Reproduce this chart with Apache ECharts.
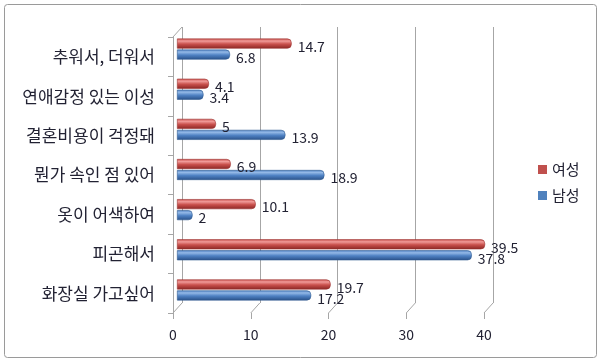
<!DOCTYPE html>
<html>
<head>
<meta charset="utf-8">
<script src="https://cdn.jsdelivr.net/npm/echarts@6/dist/echarts.min.js"></script>
<style>
html,body{margin:0;padding:0;background:#fff;}
#c{width:600px;height:363px;}
</style>
</head>
<body>
<div id="c"></div>
<script>
// ---- data ----
const categories = ['추워서, 더워서', '연애감정 있는 이성', '결혼비용이 걱정돼', '뭔가 속인 점 있어', '옷이 어색하여', '피곤해서', '화장실 가고싶어'];
const female = [14.7, 4.1, 5, 6.9, 10.1, 39.5, 19.7];   // 여성
const male = [6.8, 3.4, 13.9, 18.9, 2, 37.8, 17.2];      // 남성
const seriesNames = ['여성', '남성'];
const xTicks = [0, 10, 20, 30, 40];
const xMin = 0, xMax = 40, xInterval = 10;

// ---- style ----
const FONT = '"Noto Sans CJK KR", "Noto Sans", sans-serif';
const TEXT = '#222233';
const LINE = '#a6a6a6';
const DEPTH = {x: 9, y: -10};
const RED = '#c0504d', BLUE = '#4f81bd';

function grad(light, base, dark) {
  return new echarts.graphic.LinearGradient(0, 0, 0, 1, [
    {offset: 0, color: base},
    {offset: 0.25, color: light},
    {offset: 0.55, color: base},
    {offset: 1, color: dark}
  ]);
}

const chart = echarts.init(document.getElementById('c'), null, {renderer: 'canvas'});

const hiddenX = (gi) => ({type: 'value', gridIndex: gi, min: xMin, max: xMax, interval: xInterval,
  axisLine: {show: false}, axisTick: {show: false}, axisLabel: {show: false}, splitLine: {show: false}});
const hiddenY = (gi) => ({type: 'category', gridIndex: gi, data: categories, inverse: true,
  axisLine: {show: false}, axisTick: {show: false}, axisLabel: {show: false}, splitLine: {show: false}});

const option = {
  backgroundColor: '#fff',
  animation: false,
  textStyle: {fontFamily: FONT},
  grid: [
    {left: 182, top: 27, width: 311, height: 276},   // back plane
    {left: 173, top: 37, width: 311, height: 276},   // front plane
    {left: 177, top: 29, width: 312, height: 281}    // bars
  ],
  xAxis: [
    Object.assign(hiddenX(0), {splitLine: {show: true, lineStyle: {color: LINE, width: 1}}}),
    {type: 'value', gridIndex: 1, min: xMin, max: xMax, interval: xInterval,
      axisLine: {show: false},
      axisTick: {show: true, length: 6, lineStyle: {color: LINE}},
      axisLabel: {show: true, margin: 15, color: TEXT, fontSize: 14, fontFamily: FONT},
      splitLine: {show: false}},
    hiddenX(2)
  ],
  yAxis: [
    hiddenY(0),
    {type: 'category', gridIndex: 1, data: categories, inverse: true,
      axisLine: {show: true, lineStyle: {color: LINE, width: 1}},
      axisTick: {show: true, length: 5, lineStyle: {color: LINE}},
      axisLabel: {show: true, margin: 18, color: TEXT, fontSize: 17, fontFamily: FONT},
      splitLine: {show: false}},
    hiddenY(2)
  ],
  legend: {
    orient: 'vertical', left: 533, top: 157,
    data: [
      {name: seriesNames[0], itemStyle: {color: RED, borderWidth: 0}},
      {name: seriesNames[1], itemStyle: {color: BLUE, borderWidth: 0}}
    ],
    icon: 'rect', itemWidth: 9, itemHeight: 9, itemGap: 11,
    textStyle: {color: TEXT, fontSize: 15, fontFamily: FONT}
  },
  graphic: [
    {type: 'rect', shape: {x: 4.5, y: 4.5, width: 592, height: 353, r: 3},
      style: {fill: 'none', stroke: '#9a9a9a', lineWidth: 1}, silent: true, z: 100}
  ],
  series: [
    {
      type: 'custom', xAxisIndex: 1, yAxisIndex: 1, silent: true, z: 1,
      data: xTicks.map(v => [v]),
      encode: {x: 0},
      renderItem: function (params, api) {
        const v = api.value(0);
        const band = api.size([0, 1])[1];
        const x = api.coord([v, 0])[0];
        const yb = api.coord([v, categories.length - 1])[1] + band / 2;
        const children = [{type: 'line', shape: {x1: x, y1: yb, x2: x + DEPTH.x, y2: yb + DEPTH.y},
          style: {stroke: LINE, lineWidth: 1}}];
        if (v === xMin) {
          const yt = api.coord([v, 0])[1] - band / 2;
          children.push({type: 'line', shape: {x1: x, y1: yt, x2: x + DEPTH.x, y2: yt + DEPTH.y},
            style: {stroke: LINE, lineWidth: 1}});
        }
        return {type: 'group', children: children};
      }
    },
    {
      name: seriesNames[0], type: 'bar', xAxisIndex: 2, yAxisIndex: 2, data: female,
      barWidth: 10, barGap: '10%', barCategoryGap: '45%', z: 5,
      itemStyle: {color: grad('#f09a98', '#c9504c', '#8a2624'), borderRadius: [0, 4, 4, 0],
        borderColor: '#9a3330', borderWidth: 0.6},
      label: {show: true, position: 'right', distance: 6, offset: [0, 3], color: TEXT, fontSize: 14, fontFamily: FONT}
    },
    {
      name: seriesNames[1], type: 'bar', xAxisIndex: 2, yAxisIndex: 2, data: male,
      barWidth: 10, barGap: '10%', barCategoryGap: '45%', z: 5,
      itemStyle: {color: grad('#93b8e6', '#4f82c4', '#2a5189'), borderRadius: [0, 4, 4, 0],
        borderColor: '#2f5a90', borderWidth: 0.6},
      label: {show: true, position: 'right', distance: 6, offset: [0, 3], color: TEXT, fontSize: 14, fontFamily: FONT}
    }
  ],
  color: [RED, BLUE]
};
chart.setOption(option);
</script>
</body>
</html>
